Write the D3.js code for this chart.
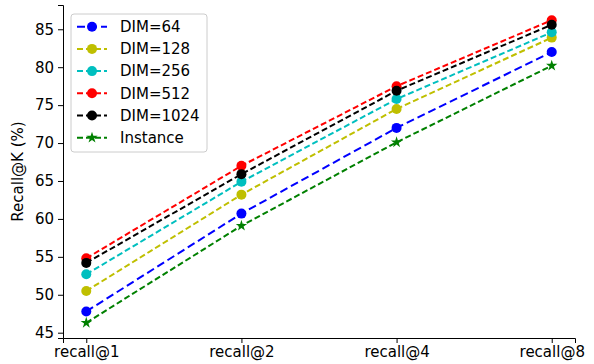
<!DOCTYPE html>
<html lang="en">
  <head>
    <meta charset="UTF-8" />
    <title>Recall@K by embedding dimension</title>
    <script src="https://cdnjs.cloudflare.com/ajax/libs/d3/7.8.5/d3.min.js"></script>
    <style>
      body {
        margin: 0;
        background: #fff;
        font-family: "DejaVu Sans", sans-serif;
      }
      .axis text {
        font-family: "DejaVu Sans", sans-serif;
        font-size: 15px;
        fill: #000;
      }
      .axis path,
      .axis line {
        stroke: #000;
        stroke-width: 1;
      }
    </style>
  </head>
  <body>
    <div id="chart"></div>
    <script>
      const width = 594;
      const height = 364;
      const margin = { top: 5, right: 19, bottom: 26, left: 63 };

      // data
      const categories = ["recall@1", "recall@2", "recall@4", "recall@8"];
      const dim64 = [47.8, 60.7, 72.0, 82.0];
      const dim128 = [50.5, 63.2, 74.5, 83.9];
      const dim256 = [52.7, 64.9, 75.8, 84.6];
      const dim512 = [54.8, 67.0, 77.5, 86.2];
      const dim1024 = [54.2, 65.9, 76.9, 85.6];
      const instance = [46.3, 59.1, 70.1, 80.2];
      const yTicks = [45, 50, 55, 60, 65, 70, 75, 80, 85];

      const series = [
        { name: "DIM=64", values: dim64, color: "#0000ff", marker: "circle", dash: "8,4" },
        { name: "DIM=128", values: dim128, color: "#bfbf00", marker: "circle", dash: "6,3" },
        { name: "DIM=256", values: dim256, color: "#00bfbf", marker: "circle", dash: "6,3" },
        { name: "DIM=512", values: dim512, color: "#ff0000", marker: "circle", dash: "6,3" },
        { name: "DIM=1024", values: dim1024, color: "#000000", marker: "circle", dash: "6,3" },
        { name: "Instance", values: instance, color: "#008000", marker: "star", dash: "6,3" },
      ];

      const svg = d3
        .select("#chart")
        .append("svg")
        .attr("width", width)
        .attr("height", height);

      // point scale with matplotlib-like 5% padding
      const x = d3
        .scaleLinear()
        .domain([-0.15, categories.length - 1 + 0.15])
        .range([margin.left, width - margin.right]);

      const y = d3
        .scaleLinear()
        .domain([44.3, 88.2])
        .range([height - margin.bottom, margin.top]);

      // axes
      svg
        .append("g")
        .attr("class", "axis")
        .attr("transform", `translate(0,${height - margin.bottom})`)
        .call(
          d3
            .axisBottom(x)
            .tickValues(d3.range(categories.length))
            .tickFormat((i) => categories[i])
            .tickSizeOuter(0)
            .tickSize(5)
            .tickPadding(3)
        );

      svg
        .append("g")
        .attr("class", "axis")
        .attr("transform", `translate(${margin.left},0)`)
        .call(
          d3
            .axisLeft(y)
            .tickValues(yTicks)
            .tickSizeOuter(0)
            .tickSize(5)
            .tickPadding(4)
        );

      svg
        .append("text")
        .attr("transform", `translate(18,${(margin.top + height - margin.bottom) / 2}) rotate(-90)`)
        .attr("text-anchor", "middle")
        .attr("dy", "0.35em")
        .style("font-size", "15px")
        .text("Recall@K (%)");

      const line = d3
        .line()
        .x((d, i) => x(i))
        .y((d) => y(d));

      const star = d3.symbol().type(d3.symbolStar).size(40);

      function drawMarker(g, s, cx, cy) {
        if (s.marker === "star") {
          g.append("path")
            .attr("d", star)
            .attr("transform", `translate(${cx},${cy})`)
            .attr("fill", s.color);
        } else {
          g.append("circle")
            .attr("cx", cx)
            .attr("cy", cy)
            .attr("r", 5)
            .attr("fill", s.color);
        }
      }

      series.forEach((s) => {
        const g = svg.append("g");
        g.append("path")
          .datum(s.values)
          .attr("d", line)
          .attr("fill", "none")
          .attr("stroke", s.color)
          .attr("stroke-width", 2)
          .attr("stroke-dasharray", s.dash);
        s.values.forEach((v, i) => drawMarker(g, s, x(i), y(v)));
      });

      // legend
      const legend = svg.append("g").attr("transform", "translate(71,14)");
      legend
        .append("rect")
        .attr("width", 136)
        .attr("height", 138)
        .attr("rx", 3)
        .attr("fill", "#fff")
        .attr("fill-opacity", 0.8)
        .attr("stroke", "#cccccc");

      series.forEach((s, i) => {
        const ly = 12.7 + i * 22.2;
        const row = legend.append("g");
        row
          .append("line")
          .attr("x1", 6)
          .attr("x2", 36)
          .attr("y1", ly)
          .attr("y2", ly)
          .attr("stroke", s.color)
          .attr("stroke-width", 2)
          .attr("stroke-dasharray", s.dash);
        drawMarker(row, s, 21, ly);
        row
          .append("text")
          .attr("x", 49)
          .attr("y", ly)
          .attr("dy", "0.35em")
          .style("font-size", "15px")
          .text(s.name);
      });
    </script>
  </body>
</html>
